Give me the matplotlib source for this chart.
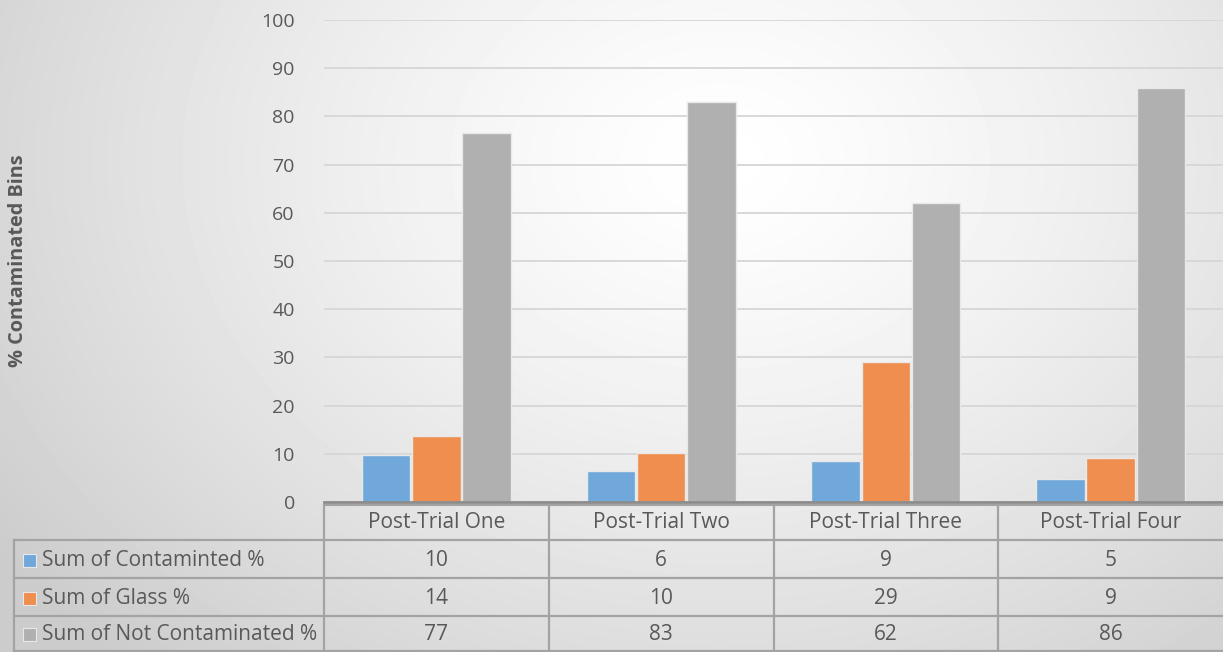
import matplotlib.pyplot as plt
import numpy as np
from matplotlib.patches import Rectangle

# data
categories = ["Post-Trial One", "Post-Trial Two", "Post-Trial Three", "Post-Trial Four"]
series_names = ["Sum of Contaminted %", "Sum of Glass %", "Sum of Not Contaminated %"]
contaminated = [9.7, 6.4, 8.6, 4.7]
glass = [13.6, 10.1, 29.1, 9.1]
not_contaminated = [76.6, 83.0, 62.0, 85.8]
y_ticks = [0, 10, 20, 30, 40, 50, 60, 70, 80, 90, 100]

COLORS = ["#70A8DB", "#EF8E4E", "#B0B0B0"]
TEXT = "#595959"
GRID = "#D6D6D6"
LINE = "#A3A3A3"

W, H = 1223, 652
plt.rcParams["font.family"] = ["Open Sans", "DejaVu Sans"]

fig = plt.figure(figsize=(W / 100, H / 100), dpi=100)

# radial grey background
bg = fig.add_axes([0, 0, 1, 1], zorder=-2)
yy, xx = np.mgrid[0:H, 0:W]
r = np.sqrt(((xx - 720) / 880.0) ** 2 + ((yy - 160) / 680.0) ** 2)
shade = 1.0 - 0.2 * np.clip(r, 0, 1) ** 1.3
bg.imshow(shade, cmap="gray", vmin=0, vmax=1, aspect="auto", interpolation="bilinear")
bg.axis("off")

# bar axes
x0, x1, ytop, ybot = 324, 1223, 20, 502
ax = fig.add_axes([x0 / W, (H - ybot) / H, (x1 - x0) / W, (ybot - ytop) / H])
ax.set_facecolor("none")
series = [contaminated, glass, not_contaminated]
x = np.arange(len(categories))
bw = 0.216
for k, vals in enumerate(series):
    ax.bar(x + (k - 1) * (bw + 0.008), vals, width=bw, color=COLORS[k],
           edgecolor="#E8E8E8", linewidth=1.0, zorder=3)
ax.set_xlim(-0.5, len(categories) - 0.5)
ax.set_ylim(0, 100)
ax.set_yticks(y_ticks)
ax.tick_params(axis="y", length=0, pad=21, labelsize=14, labelcolor=TEXT)
ax.set_xticks([])
ax.grid(axis="y", color=GRID, linewidth=1.3, zorder=0)
for s in ["top", "right", "left"]:
    ax.spines[s].set_visible(False)
ax.spines["bottom"].set_color("#8C8C8C")
ax.spines["bottom"].set_linewidth(2.0)
ax.spines["bottom"].set_zorder(4)

fig.text(18 / W, 1 - 261 / H, "% Contaminated Bins", rotation=90, ha="center", va="center",
         fontsize=14.3, fontweight="bold", color=TEXT)

# data table below the plot, in pixel coordinates
tb = fig.add_axes([0, 0, 1, 1], zorder=-1)
tb.set_xlim(0, W)
tb.set_ylim(H, 0)
tb.axis("off")
col_w = (x1 - x0) / len(categories)
rows_y = [503, 540, 578, 616, 651]
left = 14
tb.plot([x0, x1], [504.5, 504.5], color=LINE, lw=1.5)
for yv in rows_y[1:]:
    tb.plot([left, x1], [yv, yv], color=LINE, lw=1.6)
tb.plot([left, left], [rows_y[1], rows_y[-1]], color=LINE, lw=1.6)
for i in range(len(categories)):
    xv = x0 + i * col_w
    tb.plot([xv, xv], [504.5, rows_y[-1]], color=LINE, lw=1.6)

for i, name in enumerate(categories):
    tb.text(x0 + (i + 0.5) * col_w, (rows_y[0] + rows_y[1]) / 2 + 1, name,
            ha="center", va="center", fontsize=15, color=TEXT)

for k, (name, vals) in enumerate(zip(series_names, series)):
    yc = (rows_y[k + 1] + rows_y[k + 2]) / 2 + 1
    tb.add_patch(Rectangle((23, yc - 6.5), 13, 13, facecolor=COLORS[k],
                           edgecolor="#E8E8E8", lw=0.8))
    tb.text(42, yc, name, ha="left", va="center", fontsize=15, color=TEXT)
    for i, v in enumerate(vals):
        tb.text(x0 + (i + 0.5) * col_w, yc, f"{v:.0f}", ha="center", va="center",
                fontsize=15, color=TEXT)

fig.savefig("out.png", dpi=100)
